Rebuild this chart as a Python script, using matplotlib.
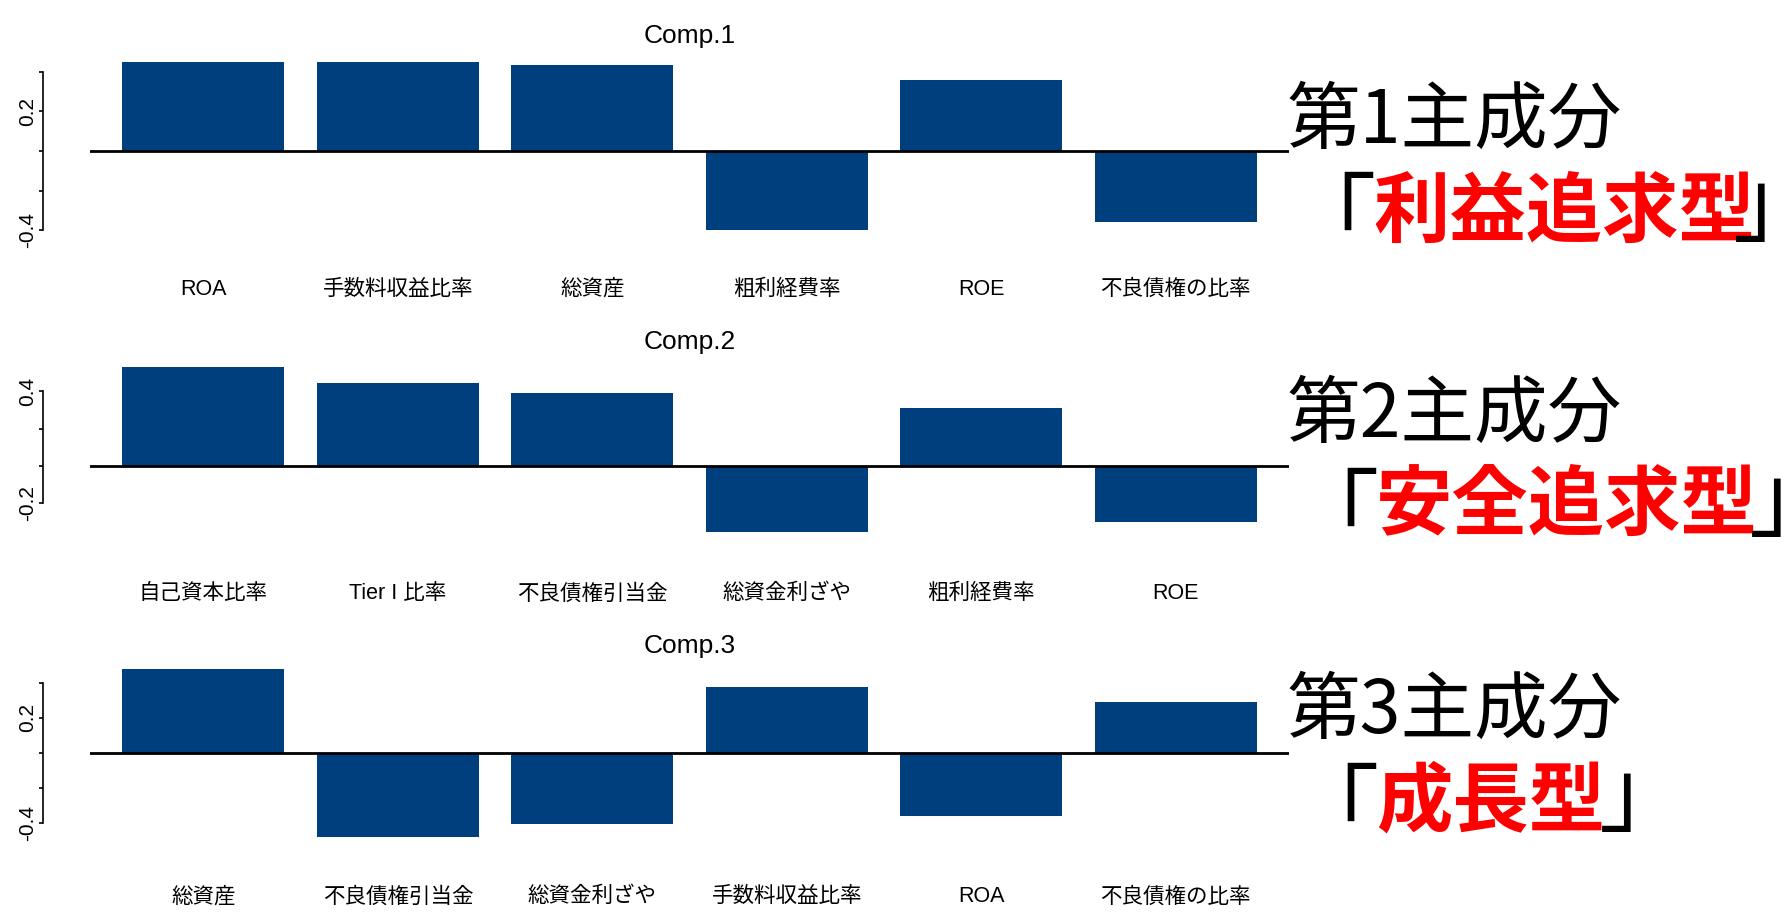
import matplotlib
matplotlib.use("Agg")
import matplotlib.pyplot as plt

# loadings
comp1_labels = ["ROA", "手数料収益比率", "総資産", "粗利経費率", "ROE", "不良債権の比率"]
comp1_values = [0.449, 0.449, 0.436, -0.399, 0.359, -0.359]

comp2_labels = ["自己資本比率", "Tier I 比率", "不良債権引当金", "総資金利ざや", "粗利経費率", "ROE"]
comp2_values = [0.531, 0.445, 0.392, -0.355, 0.310, -0.298]

comp3_labels = ["総資産", "不良債権引当金", "総資金利ざや", "手数料収益比率", "ROA", "不良債権の比率"]
comp3_values = [0.480, -0.478, -0.404, 0.375, -0.358, 0.289]

titles = ["Comp.1", "Comp.2", "Comp.3"]
ytick_vals = [[-0.4, -0.2, 0.0, 0.2, 0.4], [-0.2, 0.0, 0.2, 0.4], [-0.4, -0.2, 0.0, 0.2, 0.4]]
ytick_text = [["-0.4", "", "", "0.2", ""], ["-0.2", "", "", "0.4"], ["-0.4", "", "", "0.2", ""]]

side_titles = ["第1主成分", "第2主成分", "第3主成分"]
side_words = ["利益追求型", "安全追求型", "成長型"]

plt.rcParams['font.family'] = ['Liberation Sans', 'Noto Sans CJK JP', 'DejaVu Sans']

W, H = 1789, 919
fig = plt.figure(figsize=(W / 100, H / 100), dpi=100)
BAR = "#003f7d"

# panel placement in pixels: zero line, px per unit, ylim, label pad
panels = [
    (151, 198, (-0.45, 0.48), 28),
    (466, 187, (-0.42, 0.56), 28),
    (753, 175, (-0.50, 0.50), 33),
]
datasets = [(comp1_labels, comp1_values), (comp2_labels, comp2_values), (comp3_labels, comp3_values)]

x_left, x_right = 90, 1289
for i, ((zero, ppu, ylim, lpad), (labs, vals)) in enumerate(zip(panels, datasets)):
    top = zero - ylim[1] * ppu
    bot = zero - ylim[0] * ppu
    ax = fig.add_axes([x_left / W, 1 - bot / H, (x_right - x_left) / W, (bot - top) / H])
    xs = [0.2 + 1.2 * k + 0.5 for k in range(len(vals))]
    ax.bar(xs, vals, width=1.0, color=BAR, edgecolor="none")
    ax.axhline(0, color="black", lw=2)
    ax.set_xlim(0, 7.4)
    ax.set_ylim(*ylim)
    for s in ["top", "right", "bottom"]:
        ax.spines[s].set_visible(False)
    ax.spines["left"].set_position(("outward", 34))
    ax.spines["left"].set_bounds(ytick_vals[i][0], ytick_vals[i][-1])
    ax.spines["left"].set_linewidth(1.2)
    ax.set_yticks(ytick_vals[i])
    ax.set_yticklabels(ytick_text[i], rotation=90, va="center", fontsize=15)
    ax.tick_params(axis="y", length=3, width=1.2, pad=1)
    ax.set_xticks(xs)
    ax.set_xticklabels(labs, fontsize=15.5)
    ax.tick_params(axis="x", length=0, pad=lpad)
    ax.set_title(titles[i], fontsize=19, pad=9)

# right-hand captions, pixel anchors:
# title baseline, left bracket (x, top), word (x, bottom), right bracket (x, bottom)
cap = [
    (143, 1285, 176, 1373, 252, 1733, 255),
    (437, 1288, 472, 1376, 545, 1749, 550),
    (733, 1288, 767, 1376, 841, 1599, 845),
]
jp = "Noto Sans CJK JP"
for i, (b1, lx, ly, wx, wy, rx, ry) in enumerate(cap):
    fig.text(1287 / W, 1 - b1 / H, side_titles[i], fontsize=53, family=jp,
             color="black", va="baseline", ha="left")
    fig.text(lx / W, 1 - ly / H, "「", fontsize=65, family=jp, color="black",
             va="top", ha="left")
    fig.text(wx / W, 1 - wy / H, side_words[i], fontsize=55, family=jp, color="red",
             fontweight="bold", va="bottom", ha="left")
    fig.text(rx / W, 1 - ry / H, "」", fontsize=65, family=jp, color="black",
             va="bottom", ha="left")

fig.savefig("out.png", dpi=100, facecolor="white")
